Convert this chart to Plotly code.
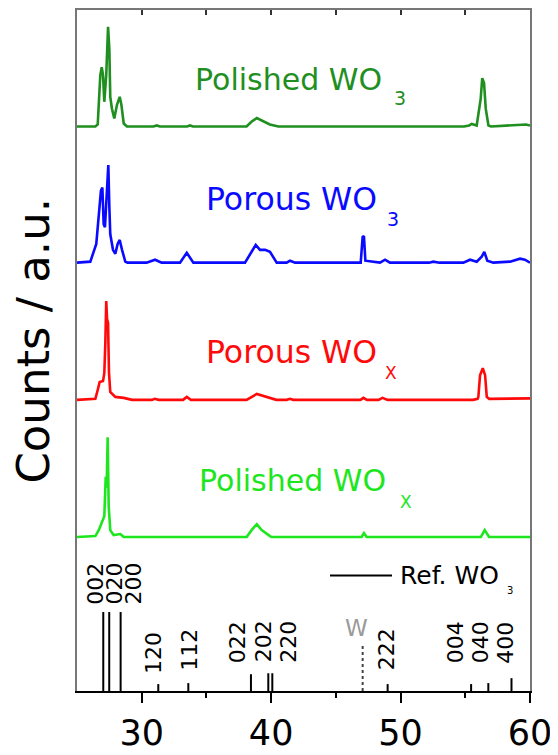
import plotly.graph_objects as go

# ---------------- data (2theta in degrees, counts in a.u.) ----------------
polished_wo3_2theta = [25.0, 26.42, 26.6, 26.70, 26.80, 26.91, 27.01, 27.11, 27.26, 27.40, 27.50, 27.57,
                       27.70, 27.88, 28.09, 28.30, 28.43, 28.61, 28.86, 30.9, 31.16, 31.4, 33.5, 33.73,
                       33.95, 38.1, 38.5, 38.89, 39.3, 39.9, 40.56, 54.9, 55.3, 55.5, 55.88, 56.19, 56.31,
                       56.45, 56.58, 56.79, 57.0, 58.0, 58.6, 59.2, 59.7, 60.0]
polished_wo3_counts = [0, 0, 2, 23, 52, 60, 52, 25, 52, 101, 78, 30,
                       18, 8, 22, 30, 22, 3, 0, 0, 1, 0, 0, 1,
                       0, 0, 5, 8.5, 6, 2, 0, 0, 1, 2.5, 1, 28, 49,
                       44, 18, 1, 0, 1, 1, 2, 2, 1]

porous_wo3_2theta = [25.0, 26.03, 26.49, 26.68, 26.85, 26.96, 27.06, 27.16, 27.26, 27.42, 27.50, 27.57,
                     27.78, 27.96, 28.14, 28.30, 28.48, 28.73, 28.9, 30.38, 31.03, 31.54, 32.96, 33.48,
                     33.99, 37.98, 38.49, 38.81, 39.14, 39.53, 39.91, 40.43, 41.2, 41.46, 41.85, 46.92,
                     47.07, 47.17, 47.28, 48.41, 48.8, 49.18, 52.2, 52.53, 53.0, 54.85, 55.37, 55.88,
                     56.27, 56.47, 56.7, 57.17, 58.46, 59.23, 59.61, 60.0]
porous_wo3_counts = [0, 1, 19, 49, 73, 76, 39, 36, 56, 99, 56, 29,
                     13, 9, 19, 23, 13, 1, 0, 0, 3, 0, 0, 10,
                     0, 0, 11, 18, 13, 13, 11, 0, 0, 2, 0, 0,
                     26, 27, 2, 0, 3, 0, 0, 1, 0, 0, 3, 1,
                     6, 11, 2, 0, 1, 4, 3, 0]

porous_wox_2theta = [25.0, 26.42, 26.60, 26.75, 27.01, 27.11, 27.19, 27.26, 27.32, 27.40, 27.47, 27.57,
                     27.96, 28.61, 29.25, 30.8, 31.0, 31.3, 33.2, 33.48, 33.8, 38.1, 38.89, 39.91,
                     40.4, 41.2, 41.46, 41.7, 46.9, 47.13, 47.4, 48.3, 48.6, 49.0, 55.6, 55.95, 56.01,
                     56.14, 56.35, 56.53, 56.66, 56.85, 59.0, 60.0]
porous_wox_counts = [0, 1, 10, 18, 19, 27, 58, 100, 82, 78, 28, 8,
                     3, 2, 0, 0, 1, 0, 0, 3, 0, 0, 6, 2,
                     0, 0, 1, 0, 0, 2, 0, 0, 2, 0, 0, 1, 3,
                     25, 32, 25, 3, 1, 1.5, 1.5]

polished_wox_2theta = [25.0, 26.42, 26.68, 26.93, 27.11, 27.22, 27.29, 27.37, 27.45, 27.57, 27.83, 28.35,
                       28.61, 38.11, 38.49, 38.89, 39.27, 39.91, 40.05, 46.99, 47.17, 47.38, 56.2, 56.5,
                       56.84, 60.0]
polished_wox_counts = [0, 1, 7, 16, 21, 61, 50, 101, 31, 7, 2, 3,
                       0, 0, 7, 13, 7, 1, 0, 0, 4, 0, 0, 7,
                       0, 0]

# vertical offsets of the stacked patterns (a.u.)
offsets = {"Polished WO3": 572, "Porous WO3": 434, "Porous WOx": 295, "Polished WOx": 156}

# reference WO3 reflections
ref_hkl = ["002", "020", "200", "120", "112", "022", "202", "220", "222", "004", "040", "400"]
ref_2theta = [27.03, 27.49, 28.37, 31.28, 33.60, 38.44, 39.78, 40.09, 49.0, 55.45, 56.78, 58.57]
ref_intensity = [80, 80, 80, 7, 8, 17, 18, 18, 7, 7, 8, 13]
w_2theta = 47.07
w_intensity = 47

tick_values = [30, 40, 50, 60]

FONT = "DejaVu Sans"

fig = go.Figure()

series = [
    ("Polished WO3", polished_wo3_2theta, polished_wo3_counts, "#1f8f1f"),
    ("Porous WO3", porous_wo3_2theta, porous_wo3_counts, "#0a0aff"),
    ("Porous WOx", porous_wox_2theta, porous_wox_counts, "#ff0a0a"),
    ("Polished WOx", polished_wox_2theta, polished_wox_counts, "#1ee61e"),
]
for name, xs, ys, col in series:
    off = offsets[name]
    fig.add_trace(go.Scatter(x=xs, y=[v + off for v in ys], mode="lines", name=name,
                             line=dict(color=col, width=2.6), showlegend=False, hoverinfo="skip"))

# reference sticks
sx, sy = [], []
for p, h in zip(ref_2theta, ref_intensity):
    sx += [p, p, None]
    sy += [0, h, None]
fig.add_trace(go.Scatter(x=sx, y=sy, mode="lines", line=dict(color="black", width=2),
                         showlegend=False, hoverinfo="skip", xaxis="x2"))
fig.add_trace(go.Scatter(x=[w_2theta, w_2theta], y=[0, w_intensity], mode="lines",
                         line=dict(color="#444", width=2, dash="dot"), showlegend=False, hoverinfo="skip"))

annotations = []
# curve labels (main text + subscript)
labels = [
    ("Polished WO", "3", 33.96, 620, 49.34, 600.5, "#1f8f1f", 30),
    ("Porous WO", "3", 34.80, 499, 48.80, 478.5, "#0a0aff", 31.5),
    ("Porous WO", "X", 34.80, 343.5, 48.64, 322.5, "#ff0a0a", 31.5),
    ("Polished WO", "X", 34.27, 213.5, 49.80, 192, "#1ee61e", 30),
]
for txt, sub, x0, y0, x1, y1, col, fs in labels:
    annotations.append(dict(x=x0, y=y0, xref="x", yref="y", text=txt, showarrow=False,
                            xanchor="left", yanchor="middle",
                            font=dict(family=FONT, size=fs, color=col)))
    annotations.append(dict(x=x1, y=y1, xref="x", yref="y", text=sub, showarrow=False,
                            xanchor="left", yanchor="middle",
                            font=dict(family=FONT, size=19 if sub == "3" else 17, color=col)))

# hkl labels
hkl_pos = {"002": (26.41, 109), "020": (27.86, 109), "200": (29.33, 109),
           "120": (30.91, 39), "112": (33.66, 42), "022": (37.40, 50), "202": (39.41, 50),
           "220": (41.38, 50), "222": (48.92, 42), "004": (54.25, 49), "040": (56.18, 49),
           "400": (58.08, 49)}
for hkl in ref_hkl:
    x, y = hkl_pos[hkl]
    annotations.append(dict(x=x, y=y, xref="x", yref="y", text=hkl, showarrow=False,
                            textangle=-90, xanchor="center", yanchor="middle",
                            font=dict(family=FONT, size=22, color="black")))
annotations.append(dict(x=46.60, y=64, xref="x", yref="y", text="W", showarrow=False,
                        xanchor="center", yanchor="middle",
                        font=dict(family=FONT, size=23, color="#9a9a9a")))

# legend for reference
annotations.append(dict(x=0.7086, y=0.1703, xref="paper", yref="paper", text="Ref. WO",
                        showarrow=False, xanchor="left", yanchor="middle",
                        font=dict(family=FONT, size=25, color="black")))
annotations.append(dict(x=0.9448, y=0.1471, xref="paper", yref="paper", text="3",
                        showarrow=False, xanchor="left", yanchor="middle",
                        font=dict(family=FONT, size=10, color="black")))

# y-axis title
annotations.append(dict(x=-0.095, y=0.5145, xref="paper", yref="paper", text="Counts / a.u.",
                        showarrow=False, textangle=-90, xanchor="center", yanchor="middle",
                        font=dict(family=FONT, size=45, color="black")))

shapes = [dict(type="line", xref="paper", yref="paper", x0=0.5585, x1=0.6954, y0=0.1696, y1=0.1696,
               line=dict(color="black", width=2))]

fig.update_layout(
    width=550, height=747,
    margin=dict(l=69, r=28, t=2, b=55),
    plot_bgcolor="white", paper_bgcolor="white",
    annotations=annotations, shapes=shapes,
    xaxis=dict(range=[25, 60], showline=True, linecolor="black", linewidth=1.5,
               ticks="outside", ticklen=10, tickwidth=1.5, tickcolor="black",
               tickvals=tick_values, ticktext=[str(t) for t in tick_values],
               tickfont=dict(family=FONT, size=35, color="black"),
               minor=dict(tickvals=[35, 45, 55], ticks="outside", ticklen=5, tickwidth=1.5,
                          tickcolor="black", showgrid=False),
               showgrid=False, zeroline=False),
    xaxis2=dict(range=[25, 60], overlaying="x", side="top", anchor="y", showline=True,
                linecolor="#777", linewidth=1.5, ticks="inside", ticklen=5, tickwidth=1.5,
                tickcolor="#333", tickvals=[30, 35, 40, 45, 50, 55], showticklabels=False,
                showgrid=False, zeroline=False),
    yaxis=dict(range=[0, 690], showline=True, linecolor="#777", linewidth=1.5, mirror=True,
               ticks="", showticklabels=False, showgrid=False, zeroline=False),
)

fig.write_html("out.html")
